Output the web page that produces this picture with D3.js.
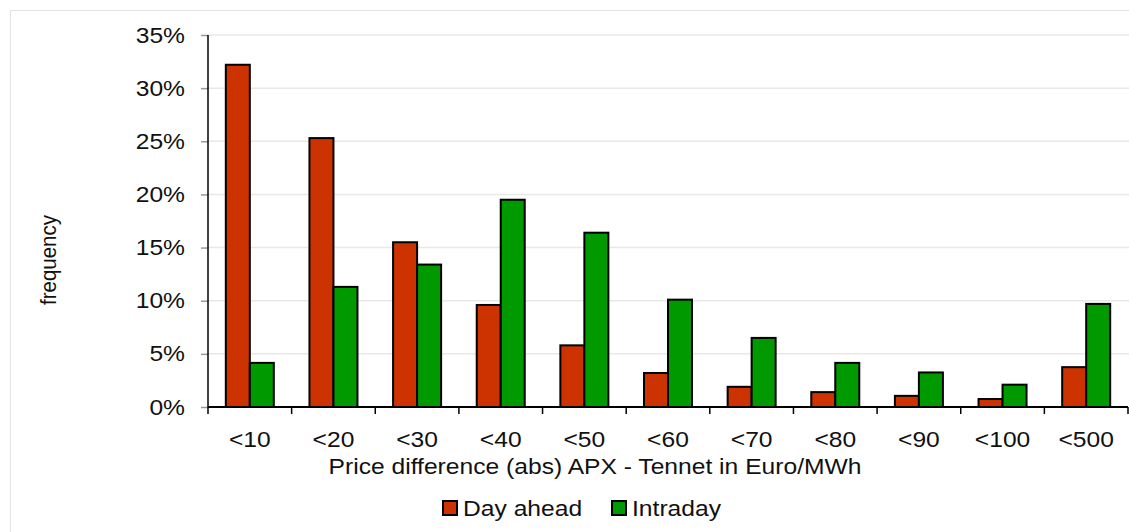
<!DOCTYPE html>
<html><head><meta charset="utf-8">
<script src="https://cdn.jsdelivr.net/npm/d3@7"></script>
<style>
html,body{margin:0;padding:0;background:#fff;}
svg{display:block;font-family:"Liberation Sans",Arial,sans-serif;}
</style></head>
<body>
<script>
const categories = ["<10","<20","<30","<40","<50","<60","<70","<80","<90","<100","<500"];
const dayAhead = [32.2,25.3,15.5,9.6,5.8,3.2,1.9,1.4,1.05,0.75,3.75];
const intraday = [4.15,11.3,13.4,19.5,16.4,10.1,6.5,4.15,3.25,2.1,9.7];
const seriesNames = ["Day ahead","Intraday"];
const seriesColors = ["#cc3300","#009900"];
const yTicks = [0,5,10,15,20,25,30,35];

const W = 1129, H = 532;
const SX = 1.12; // horizontal text stretch seen in the reference
const m = {left:208, right:1128, top:35, bottom:407};
const svg = d3.select("body").append("svg").attr("width",W).attr("height",H);

function label(g, x0, y0, txt, anchor, size){
  return g.append("text").attr("transform",`translate(${x0},${y0}) scale(${SX},1)`)
    .attr("text-anchor",anchor).attr("font-size",size).attr("fill","#111").text(txt);
}

// outer border
svg.append("rect").attr("x",10.5).attr("y",10.5).attr("width",W+10).attr("height",H+10)
  .attr("fill","none").attr("stroke","#e3e3e3");

const x = d3.scaleBand().domain(categories).range([m.left,m.right]).paddingInner(0).paddingOuter(0);
const y = d3.scaleLinear().domain([0,35]).range([m.bottom,m.top]);

// gridlines
svg.append("g").selectAll("line").data(yTicks.filter(d=>d>0)).join("line")
  .attr("x1",m.left).attr("x2",W).attr("y1",d=>y(d)).attr("y2",d=>y(d))
  .attr("stroke","#e8e8e8").attr("stroke-width",1.5);

// y axis
const yAxis = svg.append("g").attr("transform",`translate(${m.left},0)`)
  .call(d3.axisLeft(y).tickValues(yTicks).tickFormat(d=>d+"%").tickSize(7).tickPadding(16));
yAxis.select(".domain").remove();
yAxis.selectAll(".tick line").attr("stroke","#999").attr("stroke-width",1.5);
yAxis.selectAll(".tick text").attr("font-size",22).attr("fill","#111")
  .attr("font-family","Liberation Sans, Arial, sans-serif")
  .attr("x", -(7+16)/SX).attr("transform",`scale(${SX},1)`);
svg.append("line").attr("x1",m.left).attr("x2",m.left).attr("y1",m.top).attr("y2",m.bottom)
  .attr("stroke","#000").attr("stroke-width",1.5);

// bars
const pairW = 48;
const series = [dayAhead,intraday];
series.forEach((vals,si)=>{
  svg.append("g").selectAll("rect").data(vals).join("rect")
    .attr("x",(d,i)=>x(categories[i]) + x.bandwidth()/2 - pairW/2 + si*pairW/2)
    .attr("width",pairW/2)
    .attr("y",d=>y(d))
    .attr("height",d=>y(0)-y(d))
    .attr("fill",seriesColors[si]).attr("stroke","#000").attr("stroke-width",2);
});

// x axis
const xAxisG = svg.append("g").attr("transform",`translate(0,${m.bottom})`);
xAxisG.append("line").attr("x1",m.left).attr("x2",m.right).attr("stroke","#000").attr("stroke-width",2);
const tickPos = categories.map(c=>x(c)).concat([m.right]);
xAxisG.selectAll(".xt").data(tickPos).join("line").attr("class","xt")
  .attr("x1",d=>d).attr("x2",d=>d).attr("y1",0).attr("y2",7).attr("stroke","#000").attr("stroke-width",1.5);
categories.forEach(c=>label(xAxisG, x(c)+x.bandwidth()/2, 40, c, "middle", 22));

// x title
label(svg, 595, 474, "Price difference (abs) APX - Tennet in Euro/MWh", "middle", 22);

// y title
svg.append("text").attr("transform",`translate(56,260) scale(${SX},1) rotate(-90)`).attr("text-anchor","middle")
  .attr("font-size",20.5).attr("fill","#111").text("frequency");

// legend
const legX = [443,612];
seriesNames.forEach((n,i)=>{
  svg.append("rect").attr("x",legX[i]).attr("y",501).attr("width",14).attr("height",14)
    .attr("fill",seriesColors[i]).attr("stroke","#000").attr("stroke-width",2);
  label(svg, legX[i]+20, 516, n, "start", 22);
});
</script>
</body></html>
